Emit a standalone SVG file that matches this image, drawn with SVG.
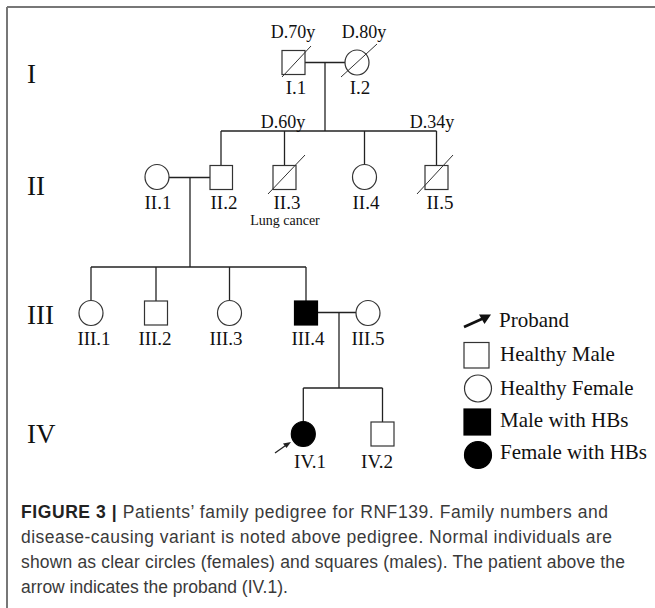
<svg xmlns="http://www.w3.org/2000/svg" width="655" height="608" viewBox="0 0 655 608">
<defs>
<style>
.ln{stroke:#222;stroke-width:1.3;fill:none}
.sym{stroke:#333;stroke-width:1.2;fill:#fff}
.aff{stroke:#000;stroke-width:1.2;fill:#000}
.dec{stroke:#333;stroke-width:1;fill:none}
.lb{font-family:"Liberation Serif","Times New Roman",serif;font-size:19px;fill:#111;text-anchor:middle}
.dy{font-family:"Liberation Serif","Times New Roman",serif;font-size:18px;fill:#111;text-anchor:middle}
.gen{font-family:"Liberation Serif","Times New Roman",serif;font-size:27px;fill:#111}
.lg{font-family:"Liberation Serif","Times New Roman",serif;font-size:21px;fill:#111}
.cap{font-family:"Liberation Sans",Arial,sans-serif;font-size:17.5px;fill:#3a3a3a}
</style>
</defs>
<rect width="655" height="608" fill="#fff"/>
<g id="frame" stroke="#777" stroke-width="2" fill="none">
<line x1="7" y1="7" x2="655" y2="7"/>
<line x1="7" y1="7" x2="7" y2="608"/>
</g>
<g id="generation-labels">
<text class="gen" x="27" y="83">I</text>
<text class="gen" x="27" y="195">II</text>
<text class="gen" x="27" y="324">III</text>
<text class="gen" x="27" y="443">IV</text>
</g>
<g id="connectors">
<line class="ln" x1="305" y1="62.5" x2="345" y2="62.5"/>
<line class="ln" x1="325" y1="62.5" x2="325" y2="131"/>
<line class="ln" x1="221" y1="131" x2="436.5" y2="131"/>
<line class="ln" x1="221" y1="131" x2="221" y2="165.5"/>
<line class="ln" x1="284.5" y1="131" x2="284.5" y2="165.5"/>
<line class="ln" x1="364.5" y1="131" x2="364.5" y2="164.5"/>
<line class="ln" x1="436.5" y1="131" x2="436.5" y2="165.5"/>
<line class="ln" x1="169" y1="177.5" x2="210" y2="177.5"/>
<line class="ln" x1="190" y1="177.5" x2="190" y2="267"/>
<line class="ln" x1="91" y1="267" x2="306" y2="267"/>
<line class="ln" x1="91" y1="267" x2="91" y2="300.5"/>
<line class="ln" x1="156" y1="267" x2="156" y2="301"/>
<line class="ln" x1="229.5" y1="267" x2="229.5" y2="300.5"/>
<line class="ln" x1="306" y1="267" x2="306" y2="301"/>
<line class="ln" x1="317.5" y1="312.5" x2="356" y2="312.5"/>
<line class="ln" x1="339" y1="312.5" x2="339" y2="388"/>
<line class="ln" x1="303.3" y1="388" x2="382.5" y2="388"/>
<line class="ln" x1="303.3" y1="388" x2="303.3" y2="421.5"/>
<line class="ln" x1="382.5" y1="388" x2="382.5" y2="422"/>
</g>
<g id="I.1">
<text class="dy" x="293" y="38">D.70y</text>
<rect class="sym" x="282" y="50.5" width="23" height="24"/>
<line class="dec" x1="282" y1="77" x2="311" y2="46"/>
<text class="lb" x="296" y="94">I.1</text>
</g>
<g id="I.2">
<text class="dy" x="364" y="38">D.80y</text>
<ellipse class="sym" cx="357" cy="62.5" rx="12" ry="12.5"/>
<line class="dec" x1="341" y1="77" x2="377" y2="44"/>
<text class="lb" x="360" y="94">I.2</text>
</g>
<g id="II.1">
<ellipse class="sym" cx="157" cy="177" rx="12" ry="12.5"/>
<text class="lb" x="158" y="209">II.1</text>
</g>
<g id="II.2">
<rect class="sym" x="210" y="165.5" width="22.5" height="24"/>
<text class="lb" x="224" y="209">II.2</text>
</g>
<g id="II.3">
<text class="dy" x="283" y="128">D.60y</text>
<rect class="sym" x="273" y="165.5" width="23" height="24"/>
<line class="dec" x1="268" y1="194" x2="305" y2="155"/>
<text class="lb" x="287" y="209">II.3</text>
<text class="lb" x="285" y="225" style="font-size:14px">Lung cancer</text>
</g>
<g id="II.4">
<ellipse class="sym" cx="364.5" cy="177" rx="12" ry="12.5"/>
<text class="lb" x="366" y="209">II.4</text>
</g>
<g id="II.5">
<text class="dy" x="432" y="128">D.34y</text>
<rect class="sym" x="425" y="165.5" width="23" height="24"/>
<line class="dec" x1="417" y1="194" x2="453" y2="155"/>
<text class="lb" x="440" y="209">II.5</text>
</g>
<g id="III.1">
<ellipse class="sym" cx="91" cy="313" rx="12" ry="12.5"/>
<text class="lb" x="94" y="345">III.1</text>
</g>
<g id="III.2">
<rect class="sym" x="144.5" y="301" width="23" height="24"/>
<text class="lb" x="155" y="345">III.2</text>
</g>
<g id="III.3">
<ellipse class="sym" cx="229.5" cy="313" rx="12" ry="12.5"/>
<text class="lb" x="226" y="345">III.3</text>
</g>
<g id="III.4">
<rect class="aff" x="294.5" y="301" width="23" height="24"/>
<text class="lb" x="308" y="345">III.4</text>
</g>
<g id="III.5">
<ellipse class="sym" cx="368" cy="313" rx="12" ry="12.5"/>
<text class="lb" x="368" y="345">III.5</text>
</g>
<g id="IV.1">
<ellipse class="aff" cx="303.3" cy="434" rx="12" ry="12.5"/>
<line x1="275" y1="453" x2="287" y2="444.5" stroke="#222" stroke-width="1.3"/>
<polygon points="291,442 283,443.5 286.5,448" fill="#222"/>
<text class="lb" x="310" y="468">IV.1</text>
</g>
<g id="IV.2">
<rect class="sym" x="371" y="422" width="23" height="24"/>
<text class="lb" x="377" y="468">IV.2</text>
</g>
<g id="legend">
<line x1="464" y1="327" x2="484" y2="318" stroke="#111" stroke-width="2.8"/>
<polygon points="491,314.5 479,314.5 484.5,324" fill="#111"/>
<text class="lg" x="499" y="327">Proband</text>
<rect class="sym" x="464" y="342.5" width="25" height="25.5"/>
<text class="lg" x="500" y="361">Healthy Male</text>
<ellipse class="sym" cx="478" cy="388.5" rx="13.5" ry="13.5"/>
<text class="lg" x="500" y="395">Healthy Female</text>
<rect class="aff" x="464" y="409" width="26.5" height="26"/>
<text class="lg" x="500" y="427">Male with HBs</text>
<ellipse class="aff" cx="478" cy="455" rx="13.5" ry="13.5"/>
<text class="lg" x="500" y="459">Female with HBs</text>
</g>
<g id="caption">
<text class="cap" x="21" y="518" textLength="587" lengthAdjust="spacing"><tspan font-weight="bold" fill="#222">FIGURE 3 |</tspan> Patients’ family pedigree for RNF139. Family numbers and</text>
<text class="cap" x="21" y="543" textLength="591" lengthAdjust="spacing">disease-causing variant is noted above pedigree. Normal individuals are</text>
<text class="cap" x="21" y="568" textLength="604" lengthAdjust="spacing">shown as clear circles (females) and squares (males). The patient above the</text>
<text class="cap" x="21" y="593">arrow indicates the proband (IV.1).</text>
</g>
</svg>
